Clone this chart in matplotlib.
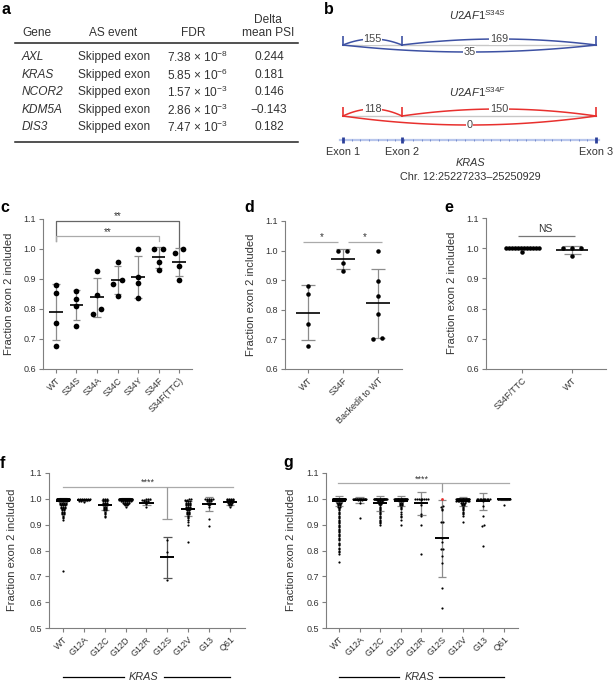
import numpy as np
import matplotlib
matplotlib.use('Agg')
import matplotlib.pyplot as plt
from matplotlib.transforms import blended_transform_factory

plt.rcParams['font.family'] = ['Liberation Sans', 'DejaVu Sans']
plt.rcParams['mathtext.fontset'] = 'custom'
plt.rcParams['mathtext.rm'] = 'Liberation Sans'
plt.rcParams['mathtext.it'] = 'Liberation Sans:italic'
plt.rcParams['mathtext.bf'] = 'Liberation Sans:bold'

# ---------------- data ----------------
# a: splicing table
genes = ['AXL', 'KRAS', 'NCOR2', 'KDM5A', 'DIS3']
events = ['Skipped exon', 'Skipped exon', 'Skipped exon', 'Skipped exon', 'Skipped exon']
fdr_mant = [7.38, 5.85, 1.57, 2.86, 7.47]
fdr_exp = [-8, -6, -3, -3, -3]
delta_psi = [0.244, 0.181, 0.146, -0.143, 0.182]

# b: sashimi (relative exon positions, junction reads)
exon_pos = [0.0, 0.233, 1.0]
exon_names = ['Exon 1', 'Exon 2', 'Exon 3']
junctions = [(0, 1), (1, 2), (0, 2)]
reads_s34s = [155, 169, 35]
reads_s34f = [118, 150, 0]

# c: fraction exon 2 included per U2AF1 variant
c_cats = ['WT', 'S34S', 'S34A', 'S34C', 'S34Y', 'S34F', 'S34F(TTC)']
c_wt = [0.88, 0.852, 0.752, 0.678]
c_s34s = [0.86, 0.835, 0.81, 0.744]
c_s34a = [0.926, 0.848, 0.80, 0.782]
c_s34c = [0.958, 0.895, 0.884, 0.845]
c_s34y = [1.0, 0.907, 0.885, 0.836]
c_s34f = [1.0, 1.0, 0.957, 0.93]
c_s34f_ttc = [1.0, 0.985, 0.943, 0.898]

# d
d_cats = ['WT', 'S34F', 'Backedit to WT']
d_wt = [0.88, 0.852, 0.752, 0.678]
d_s34f = [1.0, 1.0, 0.957, 0.932]
d_backedit = [1.0, 0.898, 0.848, 0.786, 0.70, 0.704]

# e
e_cats = ['S34F/TTC', 'WT']
e_s34f_vals = [1.0, 0.988]
e_s34f_counts = [12, 1]
e_wt = [1.0, 1.0, 1.0, 0.974]

# f, g: KRAS mutant groups (values and how many samples sit at each value)
kras_cats = ['WT', 'G12A', 'G12C', 'G12D', 'G12R', 'G12S', 'G12V', 'G13', 'Q61']

f_wt_vals = [1.0, 0.995, 0.99, 0.985, 0.98, 0.975, 0.97, 0.965, 0.96, 0.955, 0.95, 0.945, 0.94, 0.935, 0.93, 0.925, 0.92, 0.722]
f_wt_counts = [40, 9, 5, 4, 4, 3, 3, 3, 2, 2, 2, 2, 2, 1, 1, 1, 1, 1]
f_g12a_vals = [1.0, 0.997, 0.993, 0.988]
f_g12a_counts = [7, 4, 2, 1]
f_g12c_vals = [1.0, 0.995, 0.99, 0.985, 0.98, 0.975, 0.97, 0.965, 0.96, 0.955, 0.95, 0.945, 0.94, 0.935, 0.93]
f_g12c_counts = [3, 3, 3, 3, 2, 3, 2, 2, 2, 2, 1, 1, 1, 1, 1]
f_g12d_vals = [1.0, 0.995, 0.99, 0.985, 0.98, 0.975, 0.97]
f_g12d_counts = [40, 10, 6, 4, 3, 2, 1]
f_g12r_vals = [1.0, 0.997, 0.993, 0.99, 0.985, 0.98, 0.967]
f_g12r_counts = [3, 2, 2, 1, 1, 1, 1]
f_g12s_vals = [0.84, 0.795, 0.686]
f_g12s_counts = [1, 1, 1]
f_g12v_vals = [0.998, 0.995, 0.99, 0.985, 0.98, 0.975, 0.97, 0.965, 0.96, 0.955, 0.95, 0.945, 0.94, 0.935, 0.93, 0.925, 0.92, 0.91, 0.90, 0.832]
f_g12v_counts = [2, 2, 3, 3, 3, 3, 3, 2, 3, 2, 2, 2, 2, 1, 1, 1, 1, 1, 1, 1]
f_g13_vals = [1.0, 0.995, 0.99, 0.985, 0.98, 0.975, 0.97, 0.921, 0.896]
f_g13_counts = [5, 3, 3, 2, 2, 1, 1, 1, 1]
f_q61_vals = [1.0, 0.995, 0.99, 0.985, 0.98, 0.975, 0.967]
f_q61_counts = [4, 4, 3, 3, 2, 2, 1]
f_mean = [0.99, 0.996, 0.976, 0.995, 0.985, 0.774, 0.962, 0.98, 0.987]
f_sd = [0.012, 0.004, 0.018, 0.007, 0.010, 0.079, 0.03, 0.027, 0.011]

g_wt_vals = [1.0, 0.995, 0.99, 0.985, 0.98, 0.975, 0.97, 0.965, 0.96, 0.955, 0.95, 0.945, 0.94, 0.935,
             0.93, 0.925, 0.92, 0.915, 0.91, 0.905, 0.90, 0.895, 0.89, 0.885, 0.88, 0.875, 0.87, 0.865,
             0.86, 0.855, 0.85, 0.845, 0.84, 0.83, 0.825, 0.82, 0.81, 0.805, 0.80, 0.795, 0.785, 0.757]
g_wt_counts = [60, 6, 4, 3, 2, 2, 2] + [1] * 35
g_g12a_vals = [1.0, 0.995, 0.985, 0.927]
g_g12a_counts = [20, 3, 1, 1]
g_g12c_vals = [1.0, 0.995, 0.99, 0.985, 0.98, 0.975, 0.97, 0.965, 0.96, 0.955, 0.95, 0.945, 0.94, 0.935,
               0.93, 0.925, 0.92, 0.915, 0.91, 0.905, 0.90]
g_g12c_counts = [30, 4, 3, 2, 2, 1, 1, 1, 1, 1, 1, 1, 1, 1, 1, 1, 1, 1, 1, 1, 1]
g_g12d_vals = [1.0, 0.995, 0.99, 0.985, 0.98, 0.975, 0.97, 0.965, 0.96, 0.95, 0.94, 0.935, 0.93, 0.92, 0.90]
g_g12d_counts = [30, 4, 3, 2, 2, 2, 1, 1, 1, 1, 1, 1, 1, 1, 1]
g_g12r_vals = [1.0, 0.995, 0.985, 0.975, 0.94, 0.932, 0.90, 0.785]
g_g12r_counts = [8, 1, 1, 1, 1, 1, 1, 1]
g_g12s_vals = [0.973, 0.97, 0.962, 0.957, 0.912, 0.911, 0.847, 0.834, 0.806, 0.805, 0.779, 0.75, 0.656, 0.579]
g_g12s_counts = [1, 1, 1, 1, 1, 1, 1, 1, 1, 1, 1, 1, 1, 1]
g_g12s_red = [1.0]
g_g12v_vals = [1.0, 0.99, 0.985, 0.98, 0.975, 0.97, 0.965, 0.96, 0.955, 0.95, 0.945, 0.94, 0.935, 0.91]
g_g12v_counts = [30, 10, 3, 2, 2, 1, 1, 1, 1, 1, 1, 1, 1, 1]
g_g13_vals = [1.0, 0.995, 0.99, 0.974, 0.935, 0.897, 0.893, 0.819]
g_g13_counts = [10, 2, 1, 1, 1, 1, 1, 1]
g_q61_vals = [1.0, 0.998, 0.976]
g_q61_counts = [12, 3, 1]
g_mean = [0.993, 0.996, 0.982, 0.993, 0.982, 0.847, 0.99, 0.99, 0.998]
g_sd = [0.019, 0.013, 0.030, 0.019, 0.046, 0.149, 0.018, 0.033, 0.003]

# ---------------- figure ----------------
W, H = 615, 685
fig = plt.figure(figsize=(W / 100, H / 100), dpi=100)
TXT = '#333333'
AXC = '#7f7f7f'


def ftext(x, y, s, **kw):
    kw.setdefault('color', TXT)
    return fig.text(x / W, 1 - y / H, s, **kw)


def letter(x, y, s):
    ftext(x, y, s, fontsize=11.5, fontweight='bold', color='black', ha='left', va='center')


def make_ax(l, t, r, b, xlim, ylim, yticks, cats, fs=6.5):
    ax = fig.add_axes([l / W, 1 - b / H, (r - l) / W, (b - t) / H])
    ax.set_xlim(xlim)
    ax.set_ylim(ylim)
    for s in ['top', 'right']:
        ax.spines[s].set_visible(False)
    for s in ['left', 'bottom']:
        ax.spines[s].set_color(AXC)
        ax.spines[s].set_linewidth(0.8)
    ax.set_yticks(yticks)
    ax.set_yticklabels([f'{v:.1f}' for v in yticks])
    ax.set_xticks(range(len(cats)))
    ax.set_xticklabels(cats, rotation=45, ha='right', rotation_mode='anchor')
    ax.tick_params(direction='out', length=3, width=0.8, color=AXC,
                   labelsize=fs, labelcolor=TXT, pad=2)
    pxx = (r - l) / (xlim[1] - xlim[0])
    pxy = (b - t) / (ylim[1] - ylim[0])
    return ax, pxx, pxy


def swarm(ax, pxx, pxy, xc, vals, d_px, step_px, thr_px, cap, color='black'):
    v = np.sort(np.asarray(vals, float))
    rows = []
    for val in v:
        if rows and (val - rows[-1][0]) * pxy < thr_px:
            rows[-1].append(val)
        else:
            rows.append([val])
    xs, ys = [], []
    for row in rows:
        n = len(row)
        step = step_px / pxx
        if n > 1 and (n - 1) * step / 2 > cap:
            step = 2 * cap / (n - 1)
        offs = (np.arange(n) - (n - 1) / 2) * step
        xs.extend(xc + offs)
        ys.extend(row)
    ax.plot(xs, ys, 'o', ms=d_px * 0.72, mew=0, color=color, zorder=3, clip_on=False)


def meansd(ax, xc, m, s, mw, cw, sdcol='#8c8c8c', lw=1.2):
    ax.vlines(xc, m - s, m + s, color=sdcol, lw=0.9, zorder=2)
    ax.hlines([m - s, m + s], xc - cw, xc + cw, color=sdcol, lw=0.9, zorder=2)
    ax.hlines(m, xc - mw, xc + mw, color='black', lw=lw, zorder=4)


# ---------- panel a ----------
letter(1, 9, 'a')
fs_a = 8.6
ftext(22, 33, 'Gene', fontsize=fs_a, ha='left', va='center')
ftext(113, 33, 'AS event', fontsize=fs_a, ha='center', va='center')
ftext(193, 33, 'FDR', fontsize=fs_a, ha='center', va='center')
ftext(268, 20, 'Delta', fontsize=fs_a, ha='center', va='center')
ftext(268, 33, 'mean PSI', fontsize=fs_a, ha='center', va='center')
fig.add_artist(plt.Line2D([15 / W, 298 / W], [1 - 43 / H] * 2, color='#222222', lw=1.1))
fig.add_artist(plt.Line2D([15 / W, 298 / W], [1 - 142 / H] * 2, color='#222222', lw=1.1))
row_y = [57, 75, 92, 110, 127]
for gname, ev, mnt, ex, dp, y in zip(genes, events, fdr_mant, fdr_exp, delta_psi, row_y):
    ftext(22, y, gname, fontsize=fs_a, ha='left', va='center', style='italic')
    ftext(78, y, ev, fontsize=fs_a, ha='left', va='center')
    ftext(167, y, f'{mnt:.2f} \u00d7 10$^{{{ex}}}$', fontsize=fs_a, ha='left', va='center')
    ftext(269, y, f'{dp:.3f}'.replace('-', '\u2212'), fontsize=fs_a, ha='center', va='center')

# ---------- panel b ----------
letter(324, 9, 'b')
bax = fig.add_axes([310 / W, 1 - 185 / H, 305 / W, 185 / H])
bax.set_xlim((310 - 343) / 253, (615 - 343) / 253)
bax.set_ylim(185, 0)
bax.axis('off')


def sashimi(base, reads, color, up_h, down_h):
    bax.plot([exon_pos[0], exon_pos[-1]], [base, base], color='#c8c8c8', lw=1.0, zorder=1)
    bax.vlines(exon_pos, base - 9, base + 0.5, color=color, lw=1.2, zorder=2)
    t = np.linspace(0, 1, 80)
    for (i, j), r in zip(junctions, reads):
        x0, x1 = exon_pos[i], exon_pos[j]
        h = down_h if (j - i) > 1 else -up_h
        xm = (x0 + x1) / 2
        xs = (1 - t) ** 2 * x0 + 2 * (1 - t) * t * xm + t ** 2 * x1
        ys = base + 2 * (1 - t) * t * (2 * h)
        bax.plot(xs, ys, color=color, lw=1.1, zorder=2)
        bax.text(xm, base + h, str(r), ha='center', va='center', fontsize=7.8, color='#444444',
                 bbox=dict(fc='white', ec='none', pad=0.4), zorder=3)


sashimi(45, reads_s34s, '#3d51a3', 6, 7)
sashimi(116, reads_s34f, '#e8302e', 7, 9)
ftext(477, 15, r'$\mathit{U2AF1}^{\mathit{S34S}}$', fontsize=8.2, ha='center', va='center')
ftext(477, 92, r'$\mathit{U2AF1}^{\mathit{S34F}}$', fontsize=8.2, ha='center', va='center')

track_y = 140
bax.plot([exon_pos[0] - 0.01, exon_pos[-1] + 0.01], [track_y, track_y], color='#b8c6ec', lw=1.6, zorder=1)
bax.plot(np.linspace(exon_pos[0], exon_pos[-1], 30), [track_y] * 30, '|', ms=2, mew=0.6,
         color='#6d85c9', zorder=2)
bax.plot(exon_pos, [track_y] * len(exon_pos), '|', ms=4, mew=2, color='#2b3f99', zorder=3)
for xp, nm in zip(exon_pos, exon_names):
    bax.text(xp, 152, nm, ha='center', va='center', fontsize=7.8, color=TXT)
ftext(470, 163, 'KRAS', fontsize=7.8, ha='center', va='center', style='italic')
ftext(470, 177, 'Chr. 12:25227233\u201325250929', fontsize=7.8, ha='center', va='center')

ylab = 'Fraction exon 2 included'
yt6 = [0.6, 0.7, 0.8, 0.9, 1.0, 1.1]
yt5 = [0.5, 0.6, 0.7, 0.8, 0.9, 1.0, 1.1]

# ---------- panel c ----------
letter(0, 208, 'c')
ax, pxx, pxy = make_ax(43, 219, 192, 369, (-0.63, 6.63), (0.6, 1.1), yt6, c_cats)
ftext(9, 294, ylab, fontsize=8, rotation=90, ha='center', va='center')
for i, vals in enumerate([c_wt, c_s34s, c_s34a, c_s34c, c_s34y, c_s34f, c_s34f_ttc]):
    meansd(ax, i, np.mean(vals), np.std(vals, ddof=1), 0.33, 0.19)
    swarm(ax, pxx, pxy, i, vals, 5.7, 8.3, 5.7, 0.4)
ax.plot([0, 0, 6, 6], [1.025, 1.094, 1.094, 1.007], color='#666666', lw=0.9)
ax.plot([0, 0, 5, 5], [1.025, 1.042, 1.042, 1.025], color='#aaaaaa', lw=0.9)
ax.text(3, 1.093, '**', ha='center', va='bottom', fontsize=7, color=TXT)
ax.text(2.5, 1.041, '**', ha='center', va='bottom', fontsize=7, color=TXT)

# ---------- panel d ----------
letter(244, 207, 'd')
ax, pxx, pxy = make_ax(285, 221, 402, 369, (-0.66, 2.69), (0.6, 1.1), yt6, d_cats)
ftext(251, 295, ylab, fontsize=8, rotation=90, ha='center', va='center')
for i, vals in enumerate([d_wt, d_s34f, d_backedit]):
    meansd(ax, i, np.mean(vals), np.std(vals, ddof=1), 0.35, 0.19)
    swarm(ax, pxx, pxy, i, vals, 4.5, 9.0, 4.5, 0.4)
ax.hlines(1.029, -0.14, 0.86, color='#aaaaaa', lw=0.9)
ax.hlines(1.029, 1.13, 2.13, color='#aaaaaa', lw=0.9)
ax.text(0.38, 1.028, '*', ha='center', va='bottom', fontsize=7, color=TXT)
ax.text(1.63, 1.028, '*', ha='center', va='bottom', fontsize=7, color=TXT)

# ---------- panel e ----------
letter(444, 207, 'e')
ax, pxx, pxy = make_ax(486, 218, 606, 369, (-0.72, 1.68), (0.6, 1.1), yt6, e_cats)
ftext(452, 293, ylab, fontsize=8, rotation=90, ha='center', va='center')
e_s34f = np.repeat(e_s34f_vals, e_s34f_counts)
for i, vals in enumerate([e_s34f, e_wt]):
    meansd(ax, i, np.mean(vals), np.std(vals, ddof=1), 0.32, 0.17)
    swarm(ax, pxx, pxy, i, vals, 4.5, 9.0, 3.0, 0.33)
ax.hlines(1.04, -0.08, 1.06, color='#777777', lw=0.9)
ax.text(0.46, 1.047, 'NS', ha='center', va='bottom', fontsize=7.5, color=TXT)


# ---------- panels f, g ----------
def kras_panel(l, t, r, b, xlim, groups, means, sds, sdcols):
    ax, pxx, pxy = make_ax(l, t, r, b, xlim, (0.5, 1.1), yt5, kras_cats)
    for i, ((vals, cnts), m, s, sc) in enumerate(zip(groups, means, sds, sdcols)):
        meansd(ax, i, m, s, 0.34, 0.2, sdcol=sc, lw=1.4)
        swarm(ax, pxx, pxy, i, np.repeat(vals, cnts), 2.2, 2.0, 1.2, 0.31)
    tr = blended_transform_factory(ax.transData, fig.transFigure)
    yk = 1 - 677 / H
    ax.plot([0, 2.9], [yk, yk], color='black', lw=0.9, transform=tr, clip_on=False)
    ax.plot([4.85, 8], [yk, yk], color='black', lw=0.9, transform=tr, clip_on=False)
    ax.text(3.88, yk, 'KRAS', transform=tr, ha='center', va='center', fontsize=7.8,
            style='italic', color=TXT)
    return ax, pxx, pxy


letter(0, 463, 'f')
f_groups = [(f_wt_vals, f_wt_counts), (f_g12a_vals, f_g12a_counts), (f_g12c_vals, f_g12c_counts),
            (f_g12d_vals, f_g12d_counts), (f_g12r_vals, f_g12r_counts), (f_g12s_vals, f_g12s_counts),
            (f_g12v_vals, f_g12v_counts), (f_g13_vals, f_g13_counts), (f_q61_vals, f_q61_counts)]
f_sdcols = ['#8c8c8c'] * 5 + ['#555555'] + ['#8c8c8c'] * 3
ax, pxx, pxy = kras_panel(49, 473, 245, 628, (-0.67, 8.72), f_groups, f_mean, f_sd, f_sdcols)
ftext(12, 550, ylab, fontsize=8, rotation=90, ha='center', va='center')
ax.plot([0, 8.13], [1.047, 1.047], color='#aaaaaa', lw=0.9)
ax.vlines(5, 0.921, 1.047, color='#999999', lw=0.9)
ax.hlines(0.921, 4.76, 5.24, color='#999999', lw=0.9)
ax.text(4.07, 1.046, '****', ha='center', va='bottom', fontsize=6.5, color=TXT)

letter(283, 463, 'g')
g_groups = [(g_wt_vals, g_wt_counts), (g_g12a_vals, g_g12a_counts), (g_g12c_vals, g_g12c_counts),
            (g_g12d_vals, g_g12d_counts), (g_g12r_vals, g_g12r_counts), (g_g12s_vals, g_g12s_counts),
            (g_g12v_vals, g_g12v_counts), (g_g13_vals, g_g13_counts), (g_q61_vals, g_q61_counts)]
ax, pxx, pxy = kras_panel(326, 473, 518, 628, (-0.63, 8.68), g_groups, g_mean, g_sd, ['#8c8c8c'] * 9)
ftext(291, 550, ylab, fontsize=8, rotation=90, ha='center', va='center')
ax.plot([5] * len(g_g12s_red), g_g12s_red, 'o', ms=2.8 * 0.72, mew=0, color='#e8302e', zorder=5)
ax.plot([-0.06, 8.22], [1.061, 1.061], color='#aaaaaa', lw=0.9)
ax.vlines(5, 1.025, 1.061, color='#999999', lw=0.9)
ax.text(4.0, 1.06, '****', ha='center', va='bottom', fontsize=6.5, color=TXT)

fig.savefig('out.png', dpi=100)
